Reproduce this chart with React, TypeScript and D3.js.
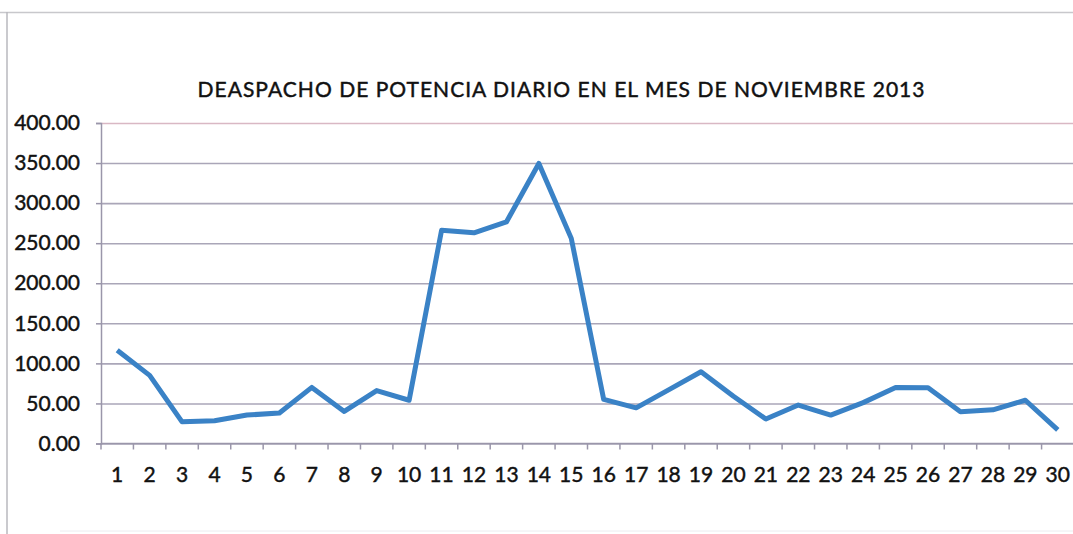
import React, { useEffect, useRef } from 'react';
import * as d3 from 'd3';

const days = d3.range(1, 31).map(String);
const despacho = [
  116.5, 85, 27, 28.5, 35.5, 38, 70, 40, 66, 54,
  266, 263, 276.5, 349.5, 256, 55, 44.5, 67, 89.5, 59,
  30.5, 48, 35.5, 51, 70, 69.5, 39.5, 42, 54, 17,
];
const yTicks = [0, 50, 100, 150, 200, 250, 300, 350, 400];
const title = 'DEASPACHO DE POTENCIA DIARIO EN EL MES DE NOVIEMBRE 2013';

const App: React.FC = () => {
  const svgRef = useRef<SVGSVGElement>(null);

  useEffect(() => {
    if (!svgRef.current) return;
    const width = 1073;
    const height = 534;
    const margin = { top: 123, right: -1, bottom: 90.5, left: 101 };
    const innerWidth = width - margin.left - margin.right;
    const innerHeight = height - margin.top - margin.bottom;

    const svg = d3.select(svgRef.current)
      .attr('width', width)
      .attr('height', height)
      .style('background', '#fff');
    svg.selectAll('*').remove();

    // scan page frame
    svg.append('line')
      .attr('x1', 0).attr('x2', width).attr('y1', 12.5).attr('y2', 12.5)
      .attr('stroke', '#c8c8cc').attr('stroke-width', 1.5);
    svg.append('line')
      .attr('x1', 7).attr('x2', 7).attr('y1', 12).attr('y2', height)
      .attr('stroke', '#b8b8be').attr('stroke-width', 1.5);
    svg.append('line')
      .attr('x1', 60).attr('x2', width).attr('y1', 531).attr('y2', 531)
      .attr('stroke', '#ececf0').attr('stroke-width', 1);

    const textStyle = (s: d3.Selection<any, any, any, any>, size: number) => s
      .attr('font-family', 'Lato, sans-serif')
      .attr('font-size', size)
      .attr('fill', '#111')
      .attr('stroke', '#111')
      .attr('stroke-width', 0.45);

    svg.append('text')
      .attr('x', 561)
      .attr('y', 97)
      .attr('text-anchor', 'middle')
      .attr('textLength', 727)
      .attr('lengthAdjust', 'spacing')
      .call(s => textStyle(s, 21))
      .text(title);

    const g = svg.append('g')
      .attr('transform', `translate(${margin.left},${margin.top})`);

    const x = d3.scaleBand<string>().domain(days).range([0, innerWidth]);
    const y = d3.scaleLinear().domain([0, 400]).range([innerHeight, 0]);

    // grid lines
    g.append('g')
      .call(d3.axisLeft(y).tickValues(yTicks).tickSize(-innerWidth).tickFormat(() => ''))
      .call(s => s.select('.domain').remove())
      .call(s => s.selectAll('.tick line')
        .attr('stroke', (d: any) => (d === 400 ? '#d9b8c4' : '#aaa6b8'))
        .attr('stroke-width', 1.6));

    // y axis
    g.append('g')
      .call(d3.axisLeft(y).tickValues(yTicks).tickSize(5).tickPadding(16).tickFormat(d3.format('.2f')))
      .call(s => s.select('.domain').attr('stroke', '#9a96aa').attr('stroke-width', 1.5))
      .call(s => s.selectAll('.tick line').attr('stroke', '#9a96aa').attr('stroke-width', 1.5))
      .call(s => textStyle(s.selectAll('.tick text'), 21));

    // x axis with ticks at category boundaries
    const xAxis = g.append('g').attr('transform', `translate(0,${innerHeight})`);
    xAxis.append('line')
      .attr('x1', 0).attr('x2', innerWidth)
      .attr('stroke', '#9a96aa').attr('stroke-width', 1.5);
    xAxis.selectAll('line.tk')
      .data(days)
      .enter()
      .append('line')
      .attr('class', 'tk')
      .attr('x1', d => x(d)!).attr('x2', d => x(d)!)
      .attr('y1', 0).attr('y2', 6)
      .attr('stroke', '#9a96aa').attr('stroke-width', 1.5);
    xAxis.selectAll('text')
      .data(days)
      .enter()
      .append('text')
      .attr('x', d => x(d)! + x.bandwidth() / 2)
      .attr('y', 31)
      .attr('dy', '0.35em')
      .attr('text-anchor', 'middle')
      .call(s => textStyle(s, 21))
      .text(d => d);

    const line = d3.line<number>()
      .x((_, i) => x(days[i])! + x.bandwidth() / 2)
      .y(d => y(d));

    g.append('path')
      .datum(despacho)
      .attr('fill', 'none')
      .attr('stroke', '#3a82c6')
      .attr('stroke-width', 5)
      .attr('stroke-linejoin', 'round')
      .attr('d', line);
  }, []);

  return (
    <div style={{ position: 'absolute', left: 0, top: 0 }}>
      <svg ref={svgRef} style={{ display: 'block' }} />
    </div>
  );
};

export default App;
